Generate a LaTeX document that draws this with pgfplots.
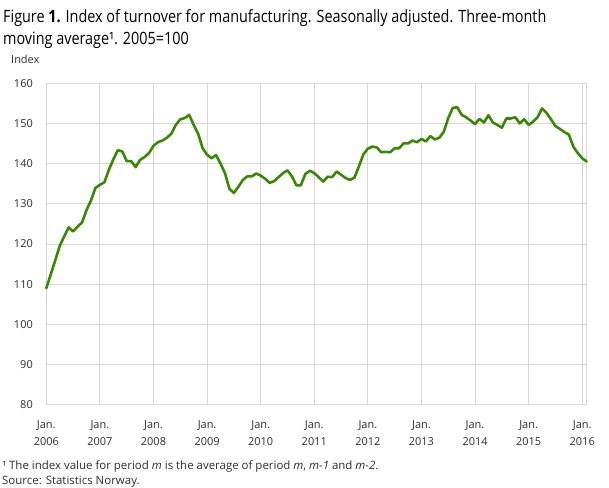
\documentclass[border=0pt]{standalone}
\usepackage{pgfplots}
\pgfplotsset{compat=1.18}
\usepackage{fontspec}
\setmainfont{Open Sans}
\newfontfamily\titlefont[FakeStretch=0.85]{Open Sans}
\definecolor{ssbgreen}{RGB}{58,135,6}
\definecolor{gridgray}{RGB}{214,214,214}
\definecolor{labgray}{RGB}{45,45,45}
\pgfplotstableread{
m v
0 109.0
1 112.4
2 115.9
3 119.5
4 121.8
5 124.1
6 123.1
7 124.3
8 125.3
9 128.4
10 130.8
11 133.9
12 134.7
13 135.3
14 138.4
15 141.0
16 143.3
17 143.0
18 140.6
19 140.6
20 139.1
21 140.9
22 141.6
23 142.6
24 144.4
25 145.3
26 145.7
27 146.4
28 147.4
29 149.6
30 151.0
31 151.3
32 152.1
33 149.6
34 147.4
35 143.8
36 142.2
37 141.3
38 142.1
39 140.0
40 137.6
41 133.7
42 132.7
43 134.2
44 135.9
45 136.8
46 136.8
47 137.5
48 137.0
49 136.2
50 135.2
51 135.6
52 136.6
53 137.6
54 138.3
55 136.8
56 134.6
57 134.6
58 137.4
59 138.2
60 137.6
61 136.6
62 135.5
63 136.7
64 136.6
65 138.0
66 137.2
67 136.4
68 135.9
69 136.5
70 139.3
71 142.3
72 143.7
73 144.2
74 144.0
75 142.8
76 142.9
77 142.8
78 143.8
79 143.8
80 145.0
81 145.0
82 145.7
83 145.3
84 146.1
85 145.5
86 146.8
87 146.0
88 146.4
89 147.9
90 151.3
91 153.8
92 154.0
93 152.1
94 151.5
95 150.7
96 149.8
97 151.1
98 150.2
99 152.0
100 150.2
101 149.6
102 148.9
103 151.2
104 151.2
105 151.5
106 150.0
107 151.0
108 149.6
109 150.4
110 151.5
111 153.7
112 152.6
113 151.0
114 149.3
115 148.6
116 147.8
117 147.2
118 144.2
119 142.6
120 141.3
121 140.5
}\datatable
\begin{document}
\begin{tikzpicture}
\path[use as bounding box] (0,0) rectangle (609bp,488bp);
\begin{axis}[
  at={(46.3bp,83.3bp)}, anchor=south west,
  scale only axis, width=540.4bp, height=321.6bp,
  xmin=0, xmax=121, ymin=80, ymax=160,
  xtick={0,12,...,120},
  xticklabels={Jan.\\2006,Jan.\\2007,Jan.\\2008,Jan.\\2009,Jan.\\2010,Jan.\\2011,Jan.\\2012,Jan.\\2013,Jan.\\2014,Jan.\\2015,Jan.\\2016},
  ytick={80,90,...,160},
  grid=major,
  grid style={gridgray, line width=0.8pt},
  axis line style={gridgray, line width=0.8pt},
  major tick length=0pt,
  tick style={draw=none},
  /pgf/number format/assume math mode=true,
  ticklabel style={font=\fontsize{11}{18}\selectfont, text=labgray},
  xticklabel style={align=center, yshift=-12bp},
  yticklabel style={xshift=-10bp},
  clip=false,
]
\addplot[ssbgreen, line width=2.6bp, line join=round, line cap=round] table[x=m, y=v] {\datatable};
\end{axis}
\node[anchor=base west, inner sep=0pt, font=\titlefont\fontsize{17}{22}\selectfont] at (3bp,465.7bp) {Figure \textbf{1.} Index of turnover for manufacturing. Seasonally adjusted. Three-month};
\node[anchor=base west, inner sep=0pt, font=\titlefont\fontsize{17}{22}\selectfont] at (3bp,443.5bp) {moving average¹. 2005=100};
\node[anchor=base west, inner sep=0pt, font=\fontsize{11}{13}\selectfont, text=labgray] at (11bp,424bp) {Index};
\node[anchor=base west, inner sep=0pt, font=\fontsize{11.5}{13}\selectfont, text=labgray] at (2bp,19bp) {¹ The index value for period \textit{m} is the average of period \textit{m}, \textit{m-1} and \textit{m-2}.};
\node[anchor=base west, inner sep=0pt, font=\fontsize{11.5}{13}\selectfont, text=labgray] at (2bp,4bp) {Source: Statistics Norway.};
\end{tikzpicture}
\end{document}
